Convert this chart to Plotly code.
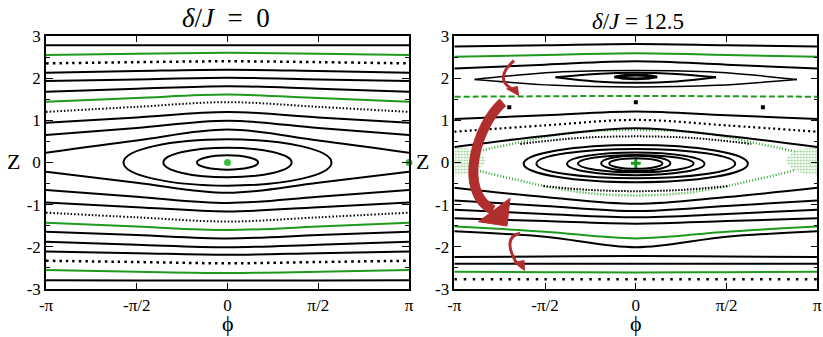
import numpy as np
import plotly.graph_objects as go

PI = np.pi
PHI = [-PI, -PI / 2, 0, PI / 2, PI]

# ---------------- left panel (delta/J = 0) ----------------
L_BLACK = [
    [2.78, 2.78, 2.78, 2.78, 2.78],
    [2.13, 2.17, 2.20, 2.17, 2.13],
    [1.93, 1.97, 2.01, 1.97, 1.93],
    [1.68, 1.75, 1.81, 1.75, 1.68],
    [0.94, 1.07, 1.20, 1.07, 0.94],
    [0.65, 0.82, 0.99, 0.82, 0.65],
    [0.23, 0.52, 0.78, 0.52, 0.23],
    [-0.22, -0.48, -0.72, -0.48, -0.22],
    [-0.65, -0.81, -0.96, -0.81, -0.65],
    [-0.95, -1.06, -1.16, -1.06, -0.95],
    [-1.64, -1.72, -1.80, -1.72, -1.64],
    [-1.88, -1.95, -2.01, -1.95, -1.88],
    [-2.11, -2.15, -2.19, -2.15, -2.11],
    [-2.79, -2.80, -2.80, -2.80, -2.79],
]
L_GREEN = [
    [2.55, 2.58, 2.60, 2.58, 2.55],
    [1.44, 1.53, 1.61, 1.53, 1.44],
    [-1.43, -1.52, -1.60, -1.52, -1.43],
    [-2.55, -2.59, -2.62, -2.59, -2.55],
]
L_DOT_SPARSE = [
    [2.35, 2.38, 2.40, 2.38, 2.35],
    [-2.33, -2.36, -2.39, -2.36, -2.33],
]
L_DOT_DENSE = [
    [1.20, 1.32, 1.43, 1.32, 1.20],
    [-1.19, -1.30, -1.40, -1.30, -1.19],
]
L_ELL_HALF_PHI = [0.53, 1.11, 1.80]
L_ELL_HALF_Z = [0.17, 0.35, 0.55]
L_FIX_PHI = [0, PI]
L_FIX_Z = [0, 0]

# ---------------- right panel (delta/J = 12.5) ----------------
R_BLACK = [
    [2.75, 2.78, 2.81, 2.78, 2.75],
    [2.23, 2.32, 2.40, 2.32, 2.23],
    [1.03, 1.12, 1.21, 1.12, 1.03],
    [0.37, 0.63, 0.81, 0.63, 0.37],
    [-0.60, -0.82, -0.98, -0.82, -0.60],
    [-0.90, -1.03, -1.15, -1.03, -0.90],
    [-1.12, -1.22, -1.30, -1.22, -1.12],
    [-1.32, -1.39, -1.45, -1.39, -1.32],
    [-1.63, -1.76, -2.01, -1.76, -1.63],
    [-2.24, -2.23, -2.22, -2.23, -2.24],
    [-2.40, -2.40, -2.40, -2.40, -2.40],
]
R_GREEN = [
    [2.51, 2.55, 2.59, 2.55, 2.51],
    [-1.52, -1.64, -1.80, -1.64, -1.52],
    [-2.59, -2.60, -2.61, -2.60, -2.59],
]
R_GREEN_DASHED = [1.56, 1.57, 1.58, 1.57, 1.56]
R_DOT_MID = [0.73, 0.88, 1.01, 0.88, 0.73]
R_DOT_BOTTOM = [-2.77, -2.77, -2.77, -2.77, -2.77]

# island around z ~ 2 (upper / lower arcs)
ISL_PHI = [[-2.79, -1.40, 0, 1.40, 2.79], [-1.39, -0.70, 0, 0.70, 1.39],
           [-0.37, -0.18, 0, 0.18, 0.37], [-0.30, -0.15, 0, 0.15, 0.30]]
ISL_TOP = [[1.97, 2.14, 2.18, 2.14, 1.97], [2.02, 2.10, 2.13, 2.10, 2.02],
           [2.03, 2.07, 2.08, 2.07, 2.03], [2.03, 2.05, 2.055, 2.05, 2.03]]
ISL_BOT = [[1.97, 1.83, 1.79, 1.83, 1.97], [2.02, 1.92, 1.89, 1.92, 2.02],
           [2.03, 1.99, 1.98, 1.99, 2.03], [2.03, 2.005, 2.00, 2.005, 2.03]]
ISL_WIDTH = [1.5, 2, 2.5, 1.5]

# period-3 chain
P3_PHI = [-2.19, 0, 2.20]
P3_Z = [1.31, 1.43, 1.31]

# central closed orbits
R_ELL_HALF_PHI = [1.94, 1.72, 1.19, 1.00, 0.60, 0.46]
R_ELL_TOP = [0.415, 0.32, 0.24, 0.18, 0.16, 0.10]
R_ELL_BOT = [-0.47, -0.375, -0.30, -0.23, -0.20, -0.15]

# dotted orbit just inside the chaotic layer (upper / lower arcs)
DOTORB_TOP_PHI = [-2.0, -1.0, 0, 1.0, 2.0]
DOTORB_TOP = [0.44, 0.58, 0.62, 0.58, 0.44]
DOTORB_BOT_PHI = [-1.6, -0.8, 0, 0.8, 1.6]
DOTORB_BOT = [-0.56, -0.65, -0.68, -0.65, -0.56]

# chaotic layer: thin branches and the clouds at phi = +-pi
CH_PHI = [-2.75, -2.5, -2.0, -1.5, -0.8, 0, 0.8, 1.5, 2.0, 2.5, 2.75]
CH_UP = [0.26, 0.34, 0.48, 0.63, 0.74, 0.77, 0.74, 0.63, 0.48, 0.34, 0.26]
CH_LO = [-0.18, -0.27, -0.43, -0.58, -0.73, -0.78, -0.73, -0.58, -0.43, -0.27, -0.18]
CLOUD_PHI = [-PI, -2.95, -2.75, -2.6, -2.75, -2.95, -PI]
CLOUD_Z = [0.38, 0.34, 0.27, 0.05, -0.18, -0.28, -0.30]

R_FIX_PHI = [0]
R_FIX_Z = [-0.02]

BLACK = "#000000"
GREEN = "#1f9a1f"
DOTGREEN = "#2ea82e"
RED = "#b02e2e"
FONT = "Liberation Serif"

fig = go.Figure()


def line(xs, ys, ax, color=BLACK, width=2, dash=None, shape="spline"):
    fig.add_trace(go.Scatter(
        x=xs, y=ys, mode="lines", xaxis=ax[0], yaxis=ax[1],
        line=dict(color=color, width=width, dash=dash, shape=shape, smoothing=1.0),
        hoverinfo="skip", showlegend=False))


A1 = ("x", "y")
A2 = ("x2", "y2")

# left panel
for zs in L_BLACK:
    line(PHI, zs, A1)
for zs in L_GREEN:
    line(PHI, zs, A1, color=GREEN)
for zs in L_DOT_SPARSE:
    line(PHI, zs, A1, width=2.5, dash="2.5px,4px")
for zs in L_DOT_DENSE:
    line(PHI, zs, A1, width=2, dash="1.5px,2px")
fig.add_trace(go.Scatter(x=L_FIX_PHI, y=L_FIX_Z, mode="markers", cliponaxis=False,
                         marker=dict(color="#3cbc3c", size=7), showlegend=False,
                         hoverinfo="skip"))

# right panel: chaotic layer
for sgn in (1, -1):
    fig.add_trace(go.Scatter(
        x=[sgn * p for p in CLOUD_PHI], y=CLOUD_Z, xaxis="x2", yaxis="y2",
        mode="lines", line=dict(width=0, shape="spline"), fill="toself",
        fillcolor="rgba(0,0,0,0)",
        fillpattern=dict(shape=".", fgcolor=DOTGREEN, size=3, solidity=0.4),
        hoverinfo="skip", showlegend=False))
line(CH_PHI, CH_UP, A2, color=DOTGREEN, width=2.5, dash="1px,2px")
line(CH_PHI, CH_LO, A2, color=DOTGREEN, width=2.5, dash="1px,2px")

for zs in R_BLACK:
    line(PHI, zs, A2)
for zs in R_GREEN:
    line(PHI, zs, A2, color=GREEN)
line(PHI, R_GREEN_DASHED, A2, color=GREEN, dash="6px,3px")
line(PHI, R_DOT_MID, A2, width=2.2, dash="2px,3px")
line(PHI, R_DOT_BOTTOM, A2, width=2.5, dash="2.5px,6.5px")
for ph, top, bot, w in zip(ISL_PHI, ISL_TOP, ISL_BOT, ISL_WIDTH):
    line(ph, top, A2, width=w)
    line(ph, bot, A2, width=w)
line(DOTORB_TOP_PHI, DOTORB_TOP, A2, width=2, dash="1.5px,1.5px")
line(DOTORB_BOT_PHI, DOTORB_BOT, A2, width=2, dash="1.5px,1.5px")
fig.add_trace(go.Scatter(x=P3_PHI, y=P3_Z, xaxis="x2", yaxis="y2", mode="markers",
                         marker=dict(color=BLACK, size=4, symbol="square"),
                         showlegend=False, hoverinfo="skip"))
fig.add_trace(go.Scatter(x=R_FIX_PHI, y=R_FIX_Z, xaxis="x2", yaxis="y2", mode="markers",
                         marker=dict(color=GREEN, size=7, symbol="cross-thin",
                                     line=dict(color=GREEN, width=3)),
                         showlegend=False, hoverinfo="skip"))

shapes = []
for a, b in zip(L_ELL_HALF_PHI, L_ELL_HALF_Z):
    shapes.append(dict(type="circle", xref="x", yref="y", x0=-a, x1=a, y0=-b, y1=b,
                       line=dict(color=BLACK, width=2)))
for a, t, b in zip(R_ELL_HALF_PHI, R_ELL_TOP, R_ELL_BOT):
    shapes.append(dict(type="circle", xref="x2", yref="y2", x0=-a, x1=a, y0=b, y1=t,
                       line=dict(color=BLACK, width=2)))

# red arrows (annotation, in right-panel data coordinates)
shapes += [
    dict(type="path", xref="x2", yref="y2",
         path="M -2.108,2.414 Q -2.45,2.0 -2.16,1.76",
         line=dict(color=RED, width=3)),
    dict(type="path", xref="x2", yref="y2",
         path="M -2.235,1.749 L -2.048,1.802 L -2.030,1.589 Z",
         fillcolor=RED, line=dict(color=RED, width=1)),
    dict(type="path", xref="x2", yref="y2",
         path="M -2.30,1.43 C -2.75,0.9 -3.1,-0.7 -2.47,-1.13",
         line=dict(color=RED, width=10)),
    dict(type="path", xref="x2", yref="y2",
         path="M -2.726,-1.404 L -2.178,-0.849 L -2.229,-1.506 Z",
         fillcolor=RED, line=dict(color=RED, width=1)),
    dict(type="path", xref="x2", yref="y2",
         path="M -2.004,-1.679 Q -2.320,-1.778 -2.065,-2.383",
         line=dict(color=RED, width=3)),
    dict(type="path", xref="x2", yref="y2",
         path="M -2.108,-2.371 L -1.935,-2.324 L -1.927,-2.561 Z",
         fillcolor=RED, line=dict(color=RED, width=1)),
]

XT_VALS = [-PI, -PI / 2, 0, PI / 2, PI]
XT_TEXT = ["-π", "-π/2", "0", "π/2", "π"]
YT_VALS = [-3, -2, -1, 0, 1, 2, 3]
YT_TEXT = ["-3", "-2", "-1", "0", "1", "2", "3"]
YMINOR = [-2.5, -1.5, -0.5, 0.5, 1.5, 2.5]

tickfont = dict(family=FONT, size=17, color=BLACK)
common_x = dict(range=[-PI, PI], tickvals=XT_VALS, ticktext=XT_TEXT, ticks="inside",
                ticklen=6, tickwidth=1.2, tickcolor=BLACK, showline=True, linecolor=BLACK,
                linewidth=1.5, mirror="ticks", showgrid=False, zeroline=False,
                tickfont=tickfont, automargin=False)
common_y = dict(range=[-3, 3], tickvals=YT_VALS, ticktext=YT_TEXT, ticks="inside",
                ticklen=7, tickwidth=1.2, tickcolor=BLACK, showline=True, linecolor=BLACK,
                linewidth=1.5, mirror="ticks", showgrid=False, zeroline=False,
                tickfont=tickfont, automargin=False,
                minor=dict(tickvals=YMINOR, ticks="inside", ticklen=4, tickwidth=1.2,
                           tickcolor=BLACK))


def ann(text, px, py, size):
    return dict(text=text, x=px / 823, y=1 - py / 337, xref="paper", yref="paper",
                xanchor="center", yanchor="middle", showarrow=False,
                font=dict(family=FONT, size=size, color=BLACK))


fig.update_layout(
    width=823, height=337,
    margin=dict(l=0, r=0, t=0, b=0, pad=0, autoexpand=False),
    paper_bgcolor="white", plot_bgcolor="white", showlegend=False,
    font=dict(family=FONT),
    xaxis=dict(domain=[46 / 823, 409 / 823], anchor="y", **common_x),
    yaxis=dict(domain=[1 - 289 / 337, 1 - 36 / 337], anchor="x", **common_y),
    xaxis2=dict(domain=[454.3 / 823, 817.3 / 823], anchor="y2", **common_x),
    yaxis2=dict(domain=[1 - 289 / 337, 1 - 36 / 337], anchor="x2", **common_y),
    shapes=shapes,
    annotations=[
        ann("<i>δ</i>/<i>J</i>  =  0", 226, 18, 27),
        ann("<i>δ</i>/<i>J</i> = 12.5", 638, 21, 23),
        ann("Z", 13, 162, 22),
        ann("Z", 423, 162, 22),
        ann("ϕ", 228, 323, 22),
        ann("ϕ", 636, 323, 22),
    ],
)

fig.write_html("out.html")
